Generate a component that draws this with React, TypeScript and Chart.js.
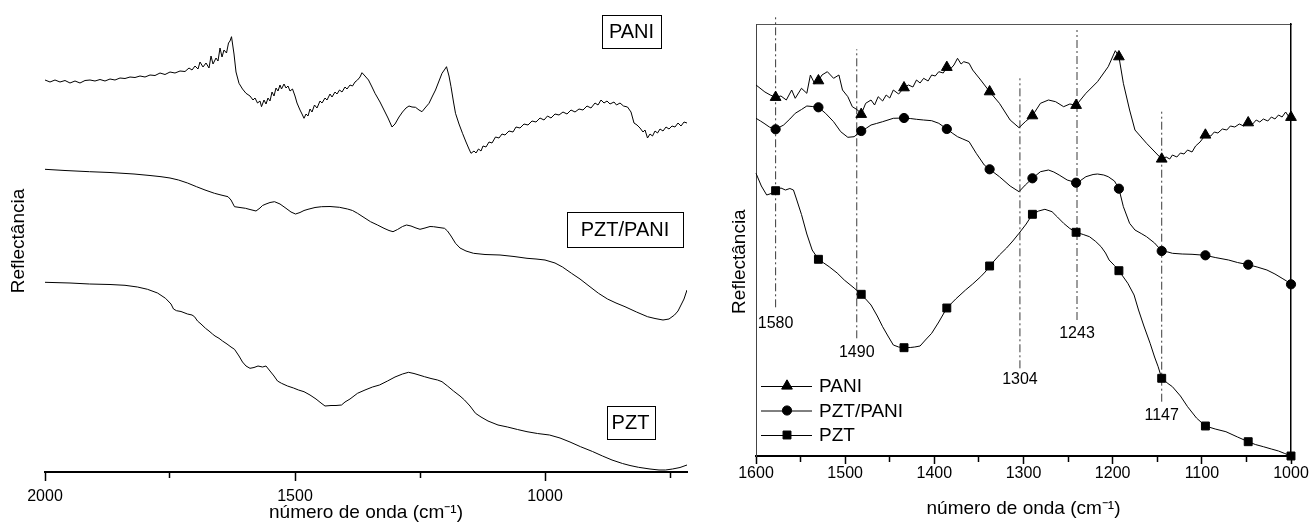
import React, { useEffect, useRef } from 'react';
import { Chart, registerables } from 'chart.js';

Chart.register(...registerables);

const FONT = '"Liberation Sans", Arial, Helvetica, sans-serif';

// ---------------- Left panel: full spectra ----------------
const leftTicks = [2000, 1750, 1500, 1250, 1000, 750];
const leftTickLabels = ['2000', '', '1500', '', '1000', ''];
const leftNames = ['PANI', 'PZT/PANI', 'PZT'];

const leftPaniX = [2000, 1990, 1980, 1970, 1960, 1950, 1940, 1930, 1920, 1910, 1900, 1890, 1880, 1870, 1860, 1850, 1840, 1830, 1820, 1810, 1800, 1790, 1780, 1770, 1760, 1750, 1740, 1730, 1720, 1712, 1706, 1700, 1694, 1690, 1684, 1678, 1672, 1668, 1664, 1658, 1654, 1650, 1646, 1642, 1637, 1633, 1630, 1627, 1622, 1618, 1612, 1605, 1598, 1590, 1584, 1580, 1575, 1570, 1567, 1562, 1558, 1554, 1550, 1546, 1542, 1538, 1534, 1530, 1527, 1522, 1518, 1514, 1510, 1505, 1500, 1496, 1490, 1486, 1482, 1478, 1474, 1470, 1466, 1461, 1456, 1450, 1446, 1440, 1436, 1430, 1426, 1420, 1416, 1411, 1406, 1400, 1396, 1390, 1385, 1380, 1375, 1370, 1366, 1360, 1353, 1346, 1340, 1330, 1322, 1314, 1306, 1300, 1292, 1285, 1278, 1272, 1266, 1259, 1252, 1246, 1240, 1232, 1225, 1219, 1212, 1206, 1200, 1197, 1192, 1188, 1183, 1179, 1172, 1165, 1158, 1152, 1148, 1142, 1138, 1133, 1128, 1124, 1118, 1112, 1106, 1099, 1092, 1086, 1080, 1072, 1064, 1058, 1050, 1042, 1034, 1026, 1018, 1010, 1002, 995, 988, 980, 972, 964, 956, 948, 940, 932, 924, 916, 908, 900, 894, 888, 882, 876, 870, 862, 857, 850, 843, 835, 828, 822, 816, 810, 804, 800, 795, 790, 785, 780, 775, 770, 764, 758, 752, 746, 740, 734, 728, 722, 716];
const leftPaniY = [392, 390, 392, 390, 391.5, 389, 391, 389, 391.5, 392, 391, 392.5, 391, 393, 392, 394, 393.5, 395, 394.5, 396, 395, 397, 396.5, 399, 397.5, 400, 399, 401, 400.5, 404, 402, 406, 403, 410, 405, 409, 404, 416, 408, 414, 411, 424, 415, 422, 419, 429, 431, 435.3, 418, 400, 388.7, 383, 378.7, 376, 372, 374, 369, 371, 365.3, 372, 368, 374, 371, 380, 376, 384, 381, 387, 383, 388, 384, 386, 381, 383, 376, 369, 362, 358, 353.7, 358, 356, 363, 360, 367, 364, 371, 369, 374, 372, 378, 375, 380, 378, 382, 380, 385, 383, 387, 386, 390, 392, 395, 399.3, 396, 392, 385, 378.7, 370, 362, 354, 345, 348, 355, 360, 364, 366, 365, 364.7, 362, 360.3, 364, 368.7, 376, 382, 391, 398.7, 403, 405.3, 396, 385.3, 370, 358.7, 348, 338.7, 330, 323, 318.7, 321, 319, 323, 321, 326, 325, 330, 329, 335, 334, 338, 337, 341, 340, 345, 344, 348, 347, 351, 350, 354, 352, 356, 354, 358, 357, 360, 358, 362, 360, 363, 362, 366, 364, 369, 367, 372, 369, 371, 368, 370, 367, 369, 366, 365, 360, 349, 347, 344, 340, 342, 334, 338, 336, 341, 339, 343, 341, 345, 343, 346, 345, 349, 346, 350, 349];

const leftHybridX = [2000, 1960, 1911, 1870, 1822, 1790, 1768, 1750, 1733, 1715, 1697, 1680, 1661, 1648, 1634, 1628, 1621, 1610, 1599, 1590, 1578, 1570, 1565, 1558, 1550, 1541, 1530, 1518, 1508, 1499, 1490, 1482, 1474, 1460, 1447, 1430, 1411, 1395, 1385, 1375, 1362, 1349, 1335, 1322, 1312, 1304, 1295, 1285, 1277, 1268, 1258, 1250, 1240, 1230, 1223, 1212, 1201, 1195, 1188, 1179, 1170, 1158, 1143, 1120, 1090, 1062, 1036, 1018, 1000, 980, 965, 947, 930, 912, 893, 875, 858, 840, 817, 795, 780, 764, 752, 741, 734, 728, 722, 716];
const leftHybridY = [302.7, 301.5, 300.3, 299.5, 298, 296.5, 295.3, 294, 292, 289, 285.3, 282, 278.7, 277, 275.3, 272, 265.3, 264.5, 263.7, 262.5, 261, 264, 266.5, 268, 269.5, 270.3, 268, 263.7, 260, 258, 259.5, 261.5, 262.7, 264.5, 265.3, 265.5, 264.7, 263, 261.5, 258.7, 254.5, 250.3, 247, 243.7, 241.5, 240.3, 242.5, 245.5, 247, 246, 244, 242.7, 244, 245.5, 245.3, 244.5, 243.7, 241, 236, 228.7, 224, 221, 218.7, 217.5, 217, 215.5, 213.7, 213, 212, 209, 205, 198.7, 193, 186, 178.7, 173, 169, 165.3, 160, 155.3, 153.5, 152, 153, 157, 161, 167, 173, 182];

const leftPztX = [2000, 1950, 1911, 1870, 1840, 1815, 1795, 1775, 1759, 1748, 1743, 1737, 1728, 1715, 1706, 1701, 1695, 1688, 1679, 1672, 1665, 1660, 1652, 1645, 1636, 1628, 1621, 1612, 1605, 1598, 1590, 1582, 1574, 1565, 1558, 1550, 1542, 1535, 1527, 1515, 1503, 1493, 1482, 1470, 1458, 1448, 1440, 1428, 1418, 1407, 1400, 1390, 1375, 1360, 1345, 1331, 1315, 1300, 1285, 1273, 1262, 1252, 1241, 1228, 1215, 1206, 1195, 1183, 1170, 1161, 1150, 1139, 1128, 1114, 1094, 1075, 1055, 1036, 1015, 991, 970, 950, 929, 905, 885, 866, 845, 830, 813, 790, 772, 759, 745, 730, 716];
const leftPztY = [189.7, 189, 188, 187.5, 186.7, 185, 182.7, 179, 173.7, 168, 163, 161.3, 160.5, 158, 157, 155.3, 151, 148, 143.7, 141, 138, 136, 133.7, 131, 128, 125, 122.7, 116, 110, 106, 103.7, 104.5, 106, 105, 106, 101, 96, 91, 88.7, 86, 84, 82, 80.3, 77, 73, 69, 66, 66.5, 66.5, 67, 70, 73, 78.7, 82, 85, 87, 91, 95, 98, 99.7, 98.5, 97, 95.3, 93.5, 92, 90.3, 86, 81, 76, 72, 66, 58.7, 55, 51, 47, 45, 42.5, 40.3, 38.5, 37, 34, 30, 25.3, 20.5, 16, 12, 8.5, 6.5, 4.7, 3, 2, 2, 3, 4.5, 7];

// ---------------- Right panel: 1600-1000 region ----------------
const rightTicks = [1600, 1550, 1500, 1450, 1400, 1350, 1300, 1250, 1200, 1150, 1100, 1050, 1000];
const rightTickLabels = ['1600', '', '1500', '', '1400', '', '1300', '', '1200', '', '1100', '', '1000'];
const rightMarkerX = [1578, 1530, 1482, 1434, 1386, 1338, 1290, 1241, 1193, 1145, 1096, 1048, 1000];

const rightPaniX = [1600, 1590, 1584, 1578, 1572, 1566, 1560, 1556, 1549, 1543, 1539, 1534, 1530, 1526, 1520, 1513, 1507, 1503, 1497, 1492, 1486, 1482, 1477, 1471, 1467, 1463, 1458, 1454, 1450, 1446, 1440, 1434, 1429, 1424, 1420, 1416, 1412, 1407, 1403, 1399, 1395, 1390, 1386, 1382, 1378, 1374, 1370, 1367, 1361, 1357, 1348, 1338, 1327, 1315, 1305, 1298, 1290, 1281, 1272, 1264, 1255, 1248, 1241, 1230, 1217, 1205, 1197, 1193, 1188, 1181, 1175, 1162, 1145, 1140, 1136, 1133, 1128, 1124, 1120, 1116, 1111, 1107, 1102, 1096, 1090, 1086, 1082, 1077, 1072, 1068, 1063, 1058, 1053, 1048, 1043, 1039, 1035, 1031, 1026, 1022, 1018, 1014, 1010, 1006, 1003, 1000];
const rightPaniY = [371, 364, 361, 358.7, 360, 356, 366, 357.7, 367.7, 362.7, 381, 372, 375.3, 381, 384.3, 377.7, 381, 366, 359.3, 349.3, 346, 341.7, 352.7, 356, 351, 359.3, 355, 361, 358, 366, 362, 368.3, 371, 369, 376, 373, 377.7, 375, 381, 380, 384.3, 383, 388.7, 387, 391, 397.7, 392, 394.3, 392.7, 386, 376, 364.3, 352.7, 336, 328.3, 334.3, 340.3, 352.7, 356, 354.3, 349.3, 352, 350.7, 362.7, 374.3, 389.3, 405.3, 399.3, 372.7, 346, 326, 312.7, 297, 299, 297, 301, 299, 303, 302, 306, 304, 310, 314, 321, 320, 324, 323, 327, 326, 330, 329, 332, 330, 333.3, 332, 336, 334, 337, 335, 339, 337, 341, 339, 344, 340, 338.7];

const rightHybridX = [1600, 1595, 1591, 1585, 1578, 1569, 1562, 1556, 1549, 1543, 1537, 1530, 1522, 1513, 1505, 1497, 1490, 1486, 1482, 1476, 1471, 1465, 1458, 1446, 1434, 1427, 1420, 1412, 1403, 1395, 1386, 1380, 1374, 1368, 1361, 1353, 1344, 1338, 1327, 1315, 1305, 1298, 1290, 1281, 1272, 1266, 1260, 1251, 1241, 1236, 1230, 1222, 1217, 1210, 1205, 1198, 1193, 1188, 1181, 1175, 1168, 1162, 1153, 1145, 1138, 1133, 1122, 1111, 1096, 1085, 1070, 1060, 1048, 1038, 1027, 1018, 1010, 1005, 1000];
const rightHybridY = [337.7, 335, 332.7, 329, 326.7, 331, 337, 342.7, 346.5, 350, 349.5, 348.7, 342.7, 334.3, 324.3, 318.7, 319.3, 322, 325, 328, 331, 332.5, 334.3, 337.7, 338, 337.5, 336.7, 336, 335.3, 332.7, 327, 323, 319.3, 317, 314.3, 302.7, 291, 286.7, 279.3, 270, 264.3, 271, 277.7, 284.3, 286, 284, 281, 276, 273.3, 275.5, 279.3, 281.5, 282, 281, 279.3, 275, 267.3, 249.3, 232.7, 226, 222.5, 219.3, 213, 205, 204, 202.7, 202, 201.7, 200.7, 198.5, 196, 193.5, 191.3, 189, 186, 182, 177.7, 175, 171.7];

const rightPztX = [1600, 1594, 1588, 1583, 1578, 1572, 1567, 1562, 1558, 1555, 1549, 1543, 1537, 1530, 1524, 1518, 1509, 1501, 1490, 1482, 1476, 1471, 1464, 1458, 1452, 1446, 1440, 1434, 1427, 1422, 1416, 1410, 1403, 1395, 1386, 1376, 1365, 1357, 1348, 1343, 1338, 1332, 1327, 1319, 1312, 1305, 1297, 1290, 1283, 1276, 1268, 1262, 1255, 1248, 1241, 1233, 1226, 1219, 1213, 1208, 1204, 1198, 1193, 1183, 1176, 1171, 1165, 1158, 1153, 1149, 1145, 1138, 1133, 1124, 1116, 1106, 1096, 1085, 1073, 1060, 1048, 1040, 1031, 1022, 1014, 1007, 1000];
const rightPztY = [282.7, 270, 261, 262.5, 265.3, 268, 266, 267.5, 266, 258, 241.5, 222, 206, 196.7, 193, 189.3, 183, 176, 168, 161.7, 156, 151, 140, 129.3, 120, 111, 109, 108.3, 108.5, 109, 110, 116, 122.7, 134, 148, 157, 166, 172, 179.3, 184, 190, 196, 201, 208, 215, 222.7, 232, 241.7, 245, 246.7, 244.3, 239, 232.7, 227.5, 223.7, 221.5, 219.3, 214.5, 209.3, 203, 196, 190.5, 185.3, 172.7, 161, 146, 130, 112.7, 99, 89.3, 77.7, 72.5, 69.3, 60, 49.3, 38, 30, 27, 24.3, 19, 14.3, 11.5, 9.3, 7, 5, 2.5, 0];

const rightNames = ['PANI', 'PZT/PANI', 'PZT'];
const rightMarkers = ['triangle', 'circle', 'rect'];

// Assigned peaks (dash-dot guide lines)
const peakLabels = ['1580', '1490', '1304', '1243', '1147'];
const peakX = [1578, 1487, 1304, 1240, 1145];
const peakTopY = [438.7, 406.7, 377.7, 426, 344.3];
const peakBottomY = [148.7, 117.7, 87.7, 136, 54.3];
const peakLabelY = [132, 103.3, 76, 122, 40];

type Pt = { x: number; y: number };
const zip = (xs: number[], ys: number[]): Pt[] => xs.map((x, i) => ({ x, y: ys[i] }));

const markerRadius: Record<string, number> = { triangle: 6.2, circle: 4.6, rect: 5.6 };

function drawMarker(ctx: CanvasRenderingContext2D, style: string, x: number, y: number) {
  const r = markerRadius[style];
  ctx.beginPath();
  if (style === 'triangle') {
    ctx.moveTo(x, y - r);
    ctx.lineTo(x + r * Math.sin((2 * Math.PI) / 3), y - r * Math.cos((2 * Math.PI) / 3));
    ctx.lineTo(x + r * Math.sin((4 * Math.PI) / 3), y - r * Math.cos((4 * Math.PI) / 3));
    ctx.closePath();
  } else if (style === 'circle') {
    ctx.arc(x, y, r, 0, Math.PI * 2);
  } else {
    const s = r * Math.SQRT1_2;
    ctx.rect(x - s, y - s, 2 * s, 2 * s);
  }
  ctx.fillStyle = '#000';
  ctx.strokeStyle = '#000';
  ctx.lineWidth = 1;
  ctx.fill();
  ctx.stroke();
}

const boxLabelsPlugin = {
  id: 'boxLabels',
  afterDatasetsDraw(chart: any, _args: any, opts: any) {
    const { ctx, scales } = chart;
    ctx.save();
    ctx.font = `20px ${FONT}`;
    ctx.textAlign = 'center';
    ctx.textBaseline = 'middle';
    ctx.fillStyle = '#000';
    ctx.strokeStyle = '#000';
    ctx.lineWidth = 1;
    (opts.items || []).forEach((it: any) => {
      const cx = scales.x.getPixelForValue(it.x);
      const cy = scales.y.getPixelForValue(it.y);
      ctx.strokeRect(Math.round(cx - it.w / 2) + 0.5, Math.round(cy - it.h / 2) + 0.5, it.w, it.h);
      ctx.fillText(it.text, cx, cy + 1);
    });
    ctx.restore();
  },
};

const peakLabelsPlugin = {
  id: 'peakLabels',
  afterDatasetsDraw(chart: any) {
    const { ctx, scales } = chart;
    ctx.save();
    ctx.font = `16px ${FONT}`;
    ctx.textAlign = 'center';
    ctx.textBaseline = 'middle';
    ctx.fillStyle = '#000';
    peakLabels.forEach((t, i) => {
      ctx.fillText(t, scales.x.getPixelForValue(peakX[i]), scales.y.getPixelForValue(peakLabelY[i]));
    });
    ctx.restore();
  },
};

const innerLegendPlugin = {
  id: 'innerLegend',
  afterDraw(chart: any) {
    const { ctx, chartArea } = chart;
    ctx.save();
    ctx.font = `19px ${FONT}`;
    ctx.textAlign = 'left';
    ctx.textBaseline = 'middle';
    rightNames.forEach((name, i) => {
      const y = chartArea.bottom - 70 + i * 24.5;
      const x0 = chartArea.left + 5;
      ctx.strokeStyle = '#000';
      ctx.lineWidth = 1;
      ctx.beginPath();
      ctx.moveTo(x0, y + 0.5);
      ctx.lineTo(x0 + 51, y + 0.5);
      ctx.stroke();
      drawMarker(ctx, rightMarkers[i], x0 + 26, y);
      ctx.fillStyle = '#000';
      ctx.fillText(name, x0 + 58, y + 1);
    });
    ctx.restore();
  },
};

// Y-axis title of the right panel, placed a little below the plot centre as in the original
const sideTitlePlugin = {
  id: 'sideTitle',
  afterDraw(chart: any, _args: any, opts: any) {
    const { ctx, chartArea } = chart;
    ctx.save();
    ctx.font = `19px ${FONT}`;
    ctx.textAlign = 'center';
    ctx.textBaseline = 'middle';
    ctx.fillStyle = '#000';
    ctx.translate(opts.x, chartArea.top + (chartArea.bottom - chartArea.top) * opts.frac);
    ctx.rotate(-Math.PI / 2);
    ctx.fillText(opts.text, 0, 0);
    ctx.restore();
  },
};

const minorDash = (labels: string[], ticks: number[]) => (c: any) => {
  const v = c.tick ? c.tick.value : null;
  const idx = ticks.indexOf(v);
  return idx >= 0 && labels[idx] === '' ? [5, 40] : [];
};

function makeLeftConfig(): any {
  return {
    type: 'line',
    data: {
      datasets: [zip(leftPaniX, leftPaniY), zip(leftHybridX, leftHybridY), zip(leftPztX, leftPztY)].map((d, i) => ({
        label: leftNames[i],
        data: d,
        borderColor: '#000',
        borderWidth: 1,
        pointRadius: 0,
        tension: 0,
        fill: false,
      })),
    },
    options: {
      animation: false,
      responsive: false,
      maintainAspectRatio: false,
      events: [],
      layout: { padding: { top: 10, right: 23, left: 0, bottom: 0 } },
      plugins: {
        legend: { display: false },
        tooltip: { enabled: false },
        boxLabels: {
          items: [
            { text: 'PANI', x: 827, y: 440.3, w: 59, h: 33 },
            { text: 'PZT/PANI', x: 840, y: 243, w: 116, h: 35 },
            { text: 'PZT', x: 829, y: 49.3, w: 48, h: 33 },
          ],
        },
      },
      scales: {
        x: {
          type: 'linear',
          reverse: true,
          min: 716,
          max: 2000,
          afterBuildTicks: (s: any) => {
            s.ticks = leftTicks.map((v) => ({ value: v }));
          },
          afterFit: (s: any) => {
            s.height = 50;
          },
          ticks: {
            autoSkip: false,
            maxRotation: 0,
            padding: 6,
            color: '#000',
            font: { family: FONT, size: 16 },
            callback: (v: number) => {
              const i = leftTicks.indexOf(v);
              return i >= 0 ? leftTickLabels[i] : '';
            },
          },
          grid: {
            drawOnChartArea: false,
            drawTicks: true,
            tickLength: 9,
            tickColor: '#000',
            tickWidth: 1.5,
            tickBorderDash: minorDash(leftTickLabels, leftTicks),
          },
          border: { display: true, color: '#000', width: 2 },
          title: {
            display: true,
            text: 'número de onda (cm⁻¹)',
            color: '#000',
            font: { family: FONT, size: 19, lineHeight: 1 },
            padding: { top: 0, bottom: 0 },
          },
        },
        y: {
          min: 0,
          max: 462,
          ticks: { display: false },
          grid: { display: false, drawTicks: false },
          border: { display: false },
          afterFit: (s: any) => {
            s.width = 45;
          },
          title: {
            display: true,
            text: 'Reflectância',
            color: '#000',
            font: { family: FONT, size: 19, lineHeight: 1.2 },
            padding: { top: 7, bottom: 0 },
          },
        },
      },
    },
    plugins: [boxLabelsPlugin],
  };
}

function makeRightConfig(): any {
  const curves = [zip(rightPaniX, rightPaniY), zip(rightHybridX, rightHybridY), zip(rightPztX, rightPztY)];
  const curveSets = curves.map((d, i) => ({
    label: rightNames[i],
    data: d,
    borderColor: '#000',
    borderWidth: 1,
    tension: 0,
    fill: false,
    pointStyle: rightMarkers[i],
    pointRadius: (c: any) => (c.raw && rightMarkerX.includes(c.raw.x) ? markerRadius[rightMarkers[i]] : 0),
    pointBackgroundColor: '#000',
    pointBorderColor: '#000',
    pointBorderWidth: 1,
    clip: false,
  }));
  const guideSets = peakX.map((x, i) => ({
    label: 'guide ' + peakLabels[i],
    data: [
      { x, y: peakBottomY[i] },
      { x, y: peakTopY[i] },
    ],
    borderColor: '#3a3a3a',
    borderWidth: 1,
    borderDash: [8, 3, 2, 3],
    pointRadius: 0,
    fill: false,
    clip: false,
  }));
  return {
    type: 'line',
    data: { datasets: [...curveSets, ...guideSets] },
    options: {
      animation: false,
      responsive: false,
      maintainAspectRatio: false,
      events: [],
      layout: { padding: 0 },
      plugins: {
        legend: { display: false },
        tooltip: { enabled: false },
        sideTitle: { text: 'Reflectância', x: 30, frac: 0.55 },
      },
      scales: {
        x: {
          type: 'linear',
          position: 'bottom',
          reverse: true,
          min: 1000,
          max: 1600,
          afterBuildTicks: (s: any) => {
            s.ticks = rightTicks.map((v) => ({ value: v }));
          },
          afterFit: (s: any) => {
            s.height = 66;
          },
          ticks: {
            autoSkip: false,
            maxRotation: 0,
            padding: 0,
            color: '#000',
            font: { family: FONT, size: 16 },
            callback: (v: number) => {
              const i = rightTicks.indexOf(v);
              return i >= 0 ? rightTickLabels[i] : '';
            },
          },
          grid: {
            drawOnChartArea: false,
            drawTicks: true,
            tickLength: 8,
            tickColor: '#000',
            tickWidth: 1.5,
            tickBorderDash: minorDash(rightTickLabels, rightTicks),
          },
          border: { display: true, color: '#000', width: 2 },
          title: {
            display: true,
            text: 'número de onda (cm⁻¹)',
            color: '#000',
            font: { family: FONT, size: 19, lineHeight: 1 },
            padding: { top: 0, bottom: 4 },
          },
        },
        x2: {
          type: 'linear',
          position: 'top',
          reverse: true,
          min: 1000,
          max: 1600,
          ticks: { display: false },
          grid: { drawOnChartArea: false, drawTicks: false },
          border: { display: true, color: '#555', width: 1 },
          afterFit: (s: any) => {
            s.height = 24;
          },
        },
        y: {
          position: 'left',
          min: 0,
          max: 432,
          ticks: { display: false },
          grid: { drawOnChartArea: false, drawTicks: false },
          border: { display: true, color: '#444', width: 1 },
          afterFit: (s: any) => {
            s.width = 46;
          },
          title: { display: false },
        },
        y2: {
          position: 'right',
          min: 0,
          max: 432,
          ticks: { display: false },
          grid: { drawOnChartArea: false, drawTicks: false },
          border: { display: true, color: '#000', width: 1.5 },
          afterFit: (s: any) => {
            s.width = 20;
          },
        },
      },
    },
    plugins: [peakLabelsPlugin, innerLegendPlugin, sideTitlePlugin],
  };
}

export default function App() {
  const leftRef = useRef<HTMLCanvasElement | null>(null);
  const rightRef = useRef<HTMLCanvasElement | null>(null);

  useEffect(() => {
    Chart.defaults.font.family = FONT;
    Chart.defaults.color = '#000';
    const charts: Chart[] = [];
    if (leftRef.current) charts.push(new Chart(leftRef.current, makeLeftConfig()));
    if (rightRef.current) charts.push(new Chart(rightRef.current, makeRightConfig()));
    return () => {
      charts.forEach((c) => c.destroy());
    };
  }, []);

  return (
    <div style={{ position: 'absolute', left: 0, top: 0, width: 1311, height: 522, background: '#fff', overflow: 'hidden' }}>
      <canvas
        ref={leftRef}
        width={710}
        height={522}
        style={{ position: 'absolute', left: 0, top: 0, width: 710, height: 522 }}
      />
      <canvas
        ref={rightRef}
        width={601}
        height={522}
        style={{ position: 'absolute', left: 710, top: 0, width: 601, height: 522 }}
      />
    </div>
  );
}
